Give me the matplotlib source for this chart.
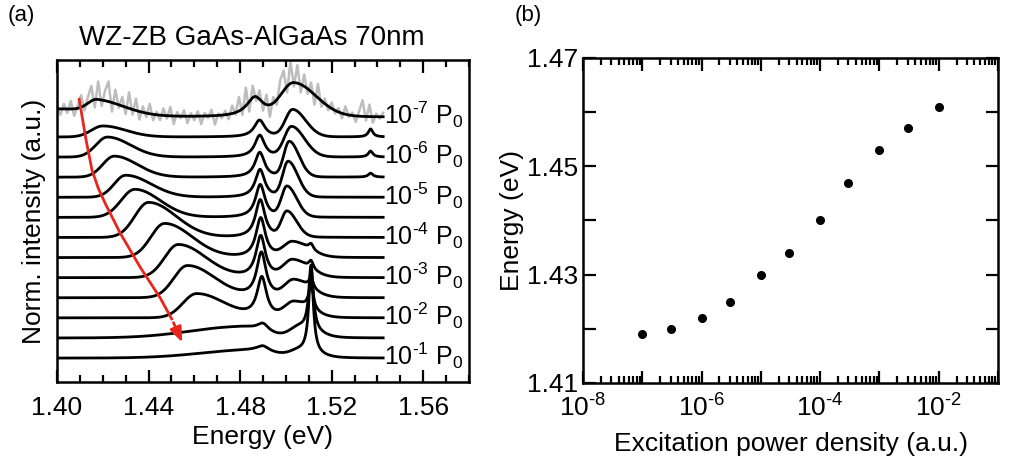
import numpy as np
import matplotlib
matplotlib.use("Agg")
import matplotlib.pyplot as plt
from matplotlib.ticker import MultipleLocator, LogLocator, NullFormatter

plt.rcParams['font.family'] = ['Liberation Sans', 'DejaVu Sans']
plt.rcParams['mathtext.fontset'] = 'custom'
plt.rcParams['mathtext.rm'] = 'Liberation Sans'
plt.rcParams['mathtext.it'] = 'Liberation Sans:italic'

# ---------------- panel (b) data ----------------
power_b = [1e-7, 3e-7, 1e-6, 3e-6, 1e-5, 3e-5, 1e-4, 3e-4, 1e-3, 3e-3, 1e-2]
energy_b = [1.419, 1.420, 1.422, 1.425, 1.430, 1.434, 1.440, 1.447, 1.453, 1.457, 1.461]

# ---------------- panel (a) data ----------------
# 13 spectra, from highest power (bottom, 1e-1) to lowest (top, 1e-7); heights in px of the offset step
label_exps = [-1, -2, -3, -4, -5, -6, -7]           # labels every second spectrum
low_E  = [1.485, 1.480, 1.461, 1.457, 1.453, 1.447, 1.440, 1.434, 1.430, 1.425, 1.422, 1.420, 1.4175]
low_h  = [8, 11, 24, 32, 33, 34, 35, 28, 22, 21, 20, 11, 12]
low_wl = [0.022, 0.022, 0.006, 0.006, 0.006, 0.006, 0.006, 0.006, 0.005, 0.005, 0.005, 0.005, 0.004]
low_wr = [0.010, 0.010, 0.012, 0.012, 0.012, 0.012, 0.012, 0.011, 0.011, 0.010, 0.010, 0.010, 0.012]
a_E = [1.4900, 1.4900, 1.4895, 1.4893, 1.4890, 1.4890, 1.4888, 1.4888, 1.4887, 1.4886, 1.4886, 1.4885, 1.4865]
a_h = [5, 8, 40, 45, 42, 40, 38, 33, 28, 25, 22, 17, 20]
a_w = [0.003, 0.003, 0.0025, 0.0025, 0.0025, 0.0025, 0.0025, 0.0025, 0.0025, 0.0025, 0.0026, 0.0028, 0.0045]
b_E = [1.5060, 1.5060, 1.5035, 1.5035, 1.5030, 1.5030, 1.5005, 1.5005, 1.5010, 1.5015, 1.5025, 1.5030, 1.5035]
b_h = [6, 10, 15, 17, 17, 15, 25, 30, 35, 35, 30, 27, 33]
b_w = [0.005, 0.005, 0.005, 0.005, 0.005, 0.005, 0.003, 0.003, 0.003, 0.003, 0.004, 0.004, 0.007]
c_h = [85, 65, 25, 10, 8, 6, 0, 0, 0, 0, 0, 0, 0]       # 1.511 eV line
d_h = [0, 0, 0, 0, 0, 0, 0, 0, 0, 4, 6, 8, 0]          # small 1.537 eV line
bg_h = [0, 0, 0, 0, 0, 0, 0, 0, 0, 0, 0, 0, 8]          # low-energy background of the weakest spectrum

# raw (noisy) grey data of the weakest spectrum: deviation from the smoothed curve, px
raw_dev = [3, -6, 5, -4, 8, -7, 2, 12, -5, 6,
           15, -8, 18, -6, 10, 20, -9, 14, -3, 9,
           -7, 16, -5, 12, -8, 6, -4, 10, -6, 3,
           -5, 7, -3, 9, -8, 4, -2, 6, -7, 3,
           -4, 5, -8, 3, -2, 6, -9, 2, -3, 4,
           -5, 8, -2, 14, -6, 18, -10, 12, -4, 9,
           -8, 10, -12, 6, -5, 15, 20, -6, 22, -4,
           18, -8, 12, -5, 9, -10, 14, -6, 5, -4,
           6, -3, 4, -5, 8, -2, 3, -6, 5, 16,
           -4, 12, -6, 3, -2, 4]

# red guide arrow (energy, offset units)
arrow_E = [1.4096, 1.4127, 1.4153, 1.4180, 1.4210, 1.4276, 1.4363, 1.4451, 1.4504, 1.4552]
arrow_y = [12.94, 10.85, 9.35, 8.46, 7.71, 6.22, 4.53, 2.99, 1.89, 0.65]

PX = 20.1  # px per offset unit


def agauss(E, c, h, wl, wr):
    w = np.where(E < c, wl, wr)
    return h * np.exp(-0.5 * ((E - c) / w) ** 2)


def lor(E, c, h, w):
    return h / (1 + ((E - c) / w) ** 2)


def spectrum(E, i):
    y = agauss(E, low_E[i], low_h[i], low_wl[i], low_wr[i])
    y += lor(E, a_E[i], a_h[i], a_w[i])
    y += agauss(E, b_E[i], b_h[i], b_w[i] * 0.8, b_w[i] * 1.4)
    y += lor(E, 1.5110, c_h[i], 0.0012)
    y += lor(E, 1.5370, d_h[i], 0.0012)
    y += agauss(E, 1.400, bg_h[i], 0.02, 0.02)
    return y / PX


fig = plt.figure(figsize=(10.09, 4.62), dpi=100)
FS = 19

# ---------------- panel (a) ----------------
ax = fig.add_axes([57 / 1009, 1 - 382 / 462, (469 - 57) / 1009, (382 - 60) / 462])
E = np.linspace(1.400, 1.5425, 900)
n = len(low_E)
E_raw = 1.400 + 0.0015 * np.arange(len(raw_dev))
top_raw = spectrum(E_raw, n - 1) + (n - 1) + np.array(raw_dev) / PX
ax.plot(E_raw, top_raw, color='#bdbdbd', lw=1.8, zorder=1)
for i in range(n):
    ax.plot(E, spectrum(E, i) + i, color='black', lw=2.0, zorder=2)

ax.plot(arrow_E[:-1], arrow_y[:-1], color='#e8261c', lw=2.0, zorder=3, solid_capstyle='butt')
ax.annotate('', xy=(arrow_E[-1], arrow_y[-1]), xytext=(arrow_E[-2], arrow_y[-2]),
            arrowprops=dict(arrowstyle='-|>,head_length=0.9,head_width=0.35', color='#e8261c', lw=2.0),
            zorder=3)

for j, ex in enumerate(label_exps):
    ax.text(1.5428, 2 * j + 0.1, r'10$^{\text{%d}}$ P$_0$' % ex, fontsize=18, va='center', ha='left',
            zorder=4)

ax.set_xlim(1.40, 1.58)
ax.set_ylim(-1.19, 14.83)
ax.xaxis.set_major_locator(MultipleLocator(0.04))
ax.xaxis.set_minor_locator(MultipleLocator(0.01))
ax.xaxis.set_major_formatter(plt.FuncFormatter(lambda v, p: '%.2f' % v))
ax.set_yticks([])
ax.tick_params(axis='x', which='both', direction='in', top=True, bottom=True, width=1.6, labelsize=FS, pad=10)
ax.tick_params(axis='x', which='major', length=9)
ax.tick_params(axis='x', which='minor', length=5)
for s in ax.spines.values():
    s.set_linewidth(1.8)
ax.set_xlabel('Energy (eV)', fontsize=FS, labelpad=4)
ax.set_ylabel('Norm. intensity (a.u.)', fontsize=FS, labelpad=8)
fig.text(252 / 1009, 1 - 38 / 462, 'WZ-ZB GaAs-AlGaAs 70nm', fontsize=20, ha='center', va='center')
fig.text(8 / 1009, 1 - 16 / 462, '(a)', fontsize=16, ha='left', va='center')
fig.text(515 / 1009, 1 - 16 / 462, '(b)', fontsize=16, ha='left', va='center')

# ---------------- panel (b) ----------------
bx = fig.add_axes([583 / 1009, 1 - 383 / 462, (998 - 583) / 1009, (383 - 58) / 462])
bx.plot(power_b, energy_b, 'o', color='black', ms=5.5)
bx.set_xscale('log')
bx.set_xlim(1e-8, 1e-1)
bx.set_ylim(1.41, 1.47)
bx.xaxis.set_major_locator(LogLocator(base=10, numticks=20))
bx.xaxis.set_minor_locator(LogLocator(base=10, subs=np.arange(2, 10), numticks=20))
bx.xaxis.set_minor_formatter(NullFormatter())
bx.xaxis.set_major_formatter(plt.FuncFormatter(
    lambda v, p: (r'10$^{\text{%d}}$' % round(np.log10(v))) if round(np.log10(v)) % 2 == 0 else ''))
bx.yaxis.set_major_locator(MultipleLocator(0.01))
bx.yaxis.set_major_formatter(plt.FuncFormatter(
    lambda v, p: ('%.2f' % v) if round(v * 100) % 2 == 1 else ''))
bx.tick_params(which='both', direction='in', top=True, right=True, width=1.6, labelsize=FS)
bx.tick_params(which='major', length=9)
bx.tick_params(which='minor', length=5)
bx.tick_params(axis='x', pad=8)
for s in bx.spines.values():
    s.set_linewidth(1.8)
bx.set_xlabel('Excitation power density (a.u.)', fontsize=FS, labelpad=8)
bx.set_ylabel('Energy (eV)', fontsize=FS, labelpad=2)

fig.savefig('out.png', dpi=100)
